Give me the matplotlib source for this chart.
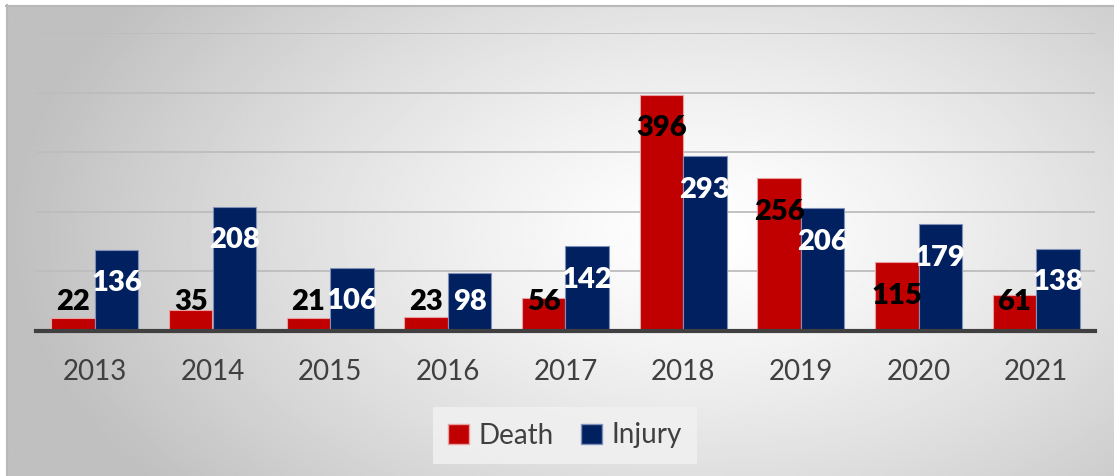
import numpy as np
import matplotlib
matplotlib.use("Agg")
import matplotlib.pyplot as plt
from matplotlib.patches import Patch

years = ["2013", "2014", "2015", "2016", "2017", "2018", "2019", "2020", "2021"]
death = [22, 35, 21, 23, 56, 396, 256, 115, 61]
injury = [136, 208, 106, 98, 142, 293, 206, 179, 138]

rojo = "#C00000"
azul = "#002060"
gris_texto = "#404040"

plt.rcParams["font.family"] = ["Lato", "DejaVu Sans"]

fig = plt.figure(figsize=(11.14, 4.76), dpi=100)

# fondo con degradado radial
fondo = fig.add_axes([0, 0, 1, 1])
fondo.set_xlim(0, 1114)
fondo.set_ylim(476, 0)
fondo.axis("off")
xx, yy = np.meshgrid(np.linspace(0, 1114, 557), np.linspace(0, 476, 238))
r = np.sqrt(((xx - 700) / 700) ** 2 + ((yy - 230) / 420) ** 2)
gris = 1 - 0.25 * np.clip(r, 0, 1) ** 1.3
fondo.imshow(gris, cmap="gray", vmin=0, vmax=1, extent=(6, 1114, 476, 5),
             aspect="auto", interpolation="bilinear")
fondo.plot([6, 1114], [5.5, 5.5], color="#b8b8b8", lw=1.5)
fondo.plot([6.5, 6.5], [5, 476], color="#b8b8b8", lw=1.5)

ax = fig.add_axes([36 / 1114, 1 - 331 / 476, (1095 - 36) / 1114, (331 - 33) / 476])
ax.patch.set_alpha(0)

x = np.arange(len(years))
ancho = 0.37
ax.bar(x - ancho / 2, death, width=ancho, color=rojo, edgecolor="#e8a0a0",
       linewidth=0.8, zorder=3)
ax.bar(x + ancho / 2, injury, width=ancho, color=azul, edgecolor="#8090b8",
       linewidth=0.8, zorder=3)

for i in range(len(years)):
    ax.text(x[i] - ancho / 2, max(death[i] - 56, 49), str(death[i]), ha="center",
            va="center", fontsize=21, fontweight="heavy", color="black", zorder=4)
    ax.text(x[i] + ancho / 2, max(injury[i] - 56, 49), str(injury[i]), ha="center",
            va="center", fontsize=21, fontweight="heavy", color="white", zorder=4)

ax.set_xlim(-0.5, len(years) - 0.5)
ax.set_ylim(0, 500)
ax.set_yticks([100, 200, 300, 400, 500])
ax.yaxis.grid(True, color="#bdbdbd", lw=1.3, zorder=0)
ax.tick_params(axis="y", left=False, labelleft=False)
ax.set_xticks(x)
ax.set_xticklabels(years, fontsize=20, color=gris_texto)
ax.tick_params(axis="x", length=0, pad=20)
for lado in ["top", "right", "left"]:
    ax.spines[lado].set_visible(False)
ax.spines["bottom"].set_color("#404040")
ax.spines["bottom"].set_linewidth(3)
ax.spines["bottom"].set_zorder(5)

manijas = [Patch(facecolor=rojo, edgecolor="#e8a0a0", label="Death"),
           Patch(facecolor=azul, edgecolor="#8090b8", label="Injury")]
leg = fig.legend(handles=manijas, loc="center", bbox_to_anchor=(565 / 1114, 1 - 435.5 / 476),
                 ncol=2, frameon=True, fontsize=20, handlelength=0.75, handleheight=0.75,
                 handletextpad=0.35, columnspacing=1.0, borderpad=0.55, fancybox=False)
leg.get_frame().set_facecolor("#f0f0f0")
leg.get_frame().set_edgecolor("none")
leg.get_frame().set_alpha(0.9)
for t in leg.get_texts():
    t.set_color(gris_texto)

fig.savefig("out.png", dpi=100)
